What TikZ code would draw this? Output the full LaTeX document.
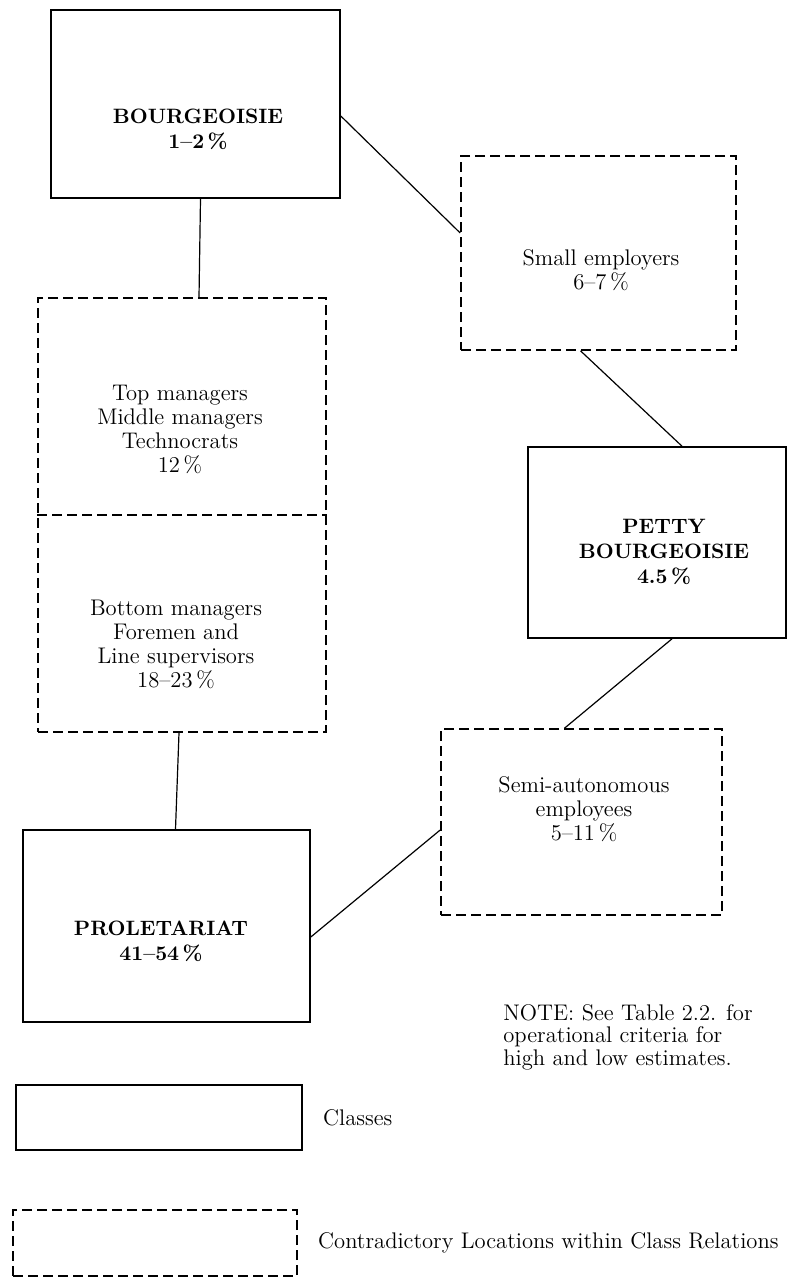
\documentclass[tikz,border=0pt]{standalone}
\usepackage{fontspec}
\usepackage{tikz}
\usetikzlibrary{positioning,calc,fit}

\tikzset{
  dashline/.style={line width=0.8pt, dash pattern=on 5pt off 2.5pt},
  classbox/.style={draw, line width=0.8pt, inner sep=0pt},
  contrabox/.style={draw, dashline, inner sep=0pt},
  boxtext/.style={align=center, inner sep=0pt, font=\fontsize{11.3}{12}\selectfont},
  classtext/.style={align=center, inner sep=0pt, font=\fontsize{10.4}{12.5}\selectfont\bfseries},
  link/.style={line width=0.6pt}
}

\begin{document}
\begin{tikzpicture}[x=0.5pt,y=-0.5pt]
        \useasboundingbox (0,0) rectangle (789,1280);

        \node[classbox, fit={(51,10) (340,198)}] (bourg) {};
        \node[classtext] (bourgtxt) at (198,129) {BOURGEOISIE\\1--2\,\%};

        \node[contrabox, fit={(461,156) (736,350)}] (small) {};
        \node[boxtext] (smalltxt) at (601,270) {Small employers\\6--7\,\%};

        \node[contrabox, fit={(38,298) (326,732)}] (mgr) {};
        \coordinate (split) at (0,515);
        \draw[dashline] (mgr.west |- split) -- (mgr.east |- split);
        \node[boxtext] (toptxt) at (180,429) {Top managers\\Middle managers\\Technocrats\\12\,\%};
        \node[boxtext] (bottomtxt) at (176,644) {Bottom managers\\Foremen and\\Line supervisors\\18--23\,\%};

        \node[classbox, fit={(528,447) (786,638)}] (petty) {};
        \node[classtext] (pettytxt) at (664,552) {PETTY\\BOURGEOISIE\\4.5\,\%};

        \node[contrabox, fit={(441,729) (722,915)}] (semi) {};
        \node[boxtext] (semitxt) at (584,809) {Semi-autonomous\\employees\\5--11\,\%};

        \node[classbox, fit={(23,830) (310,1022)}] (prol) {};
        \node[classtext] (proltxt) at (161,941) {PROLETARIAT\\41--54\,\%};

        \draw[link] ($(bourg.east)+(0,12)$) -- ($(small.west)+(0,-20)$);
        \draw[link] ($(bourg.south)+(5,0)$) -- ($(mgr.north)+(17,0)$);
        \draw[link] ($(small.south)+(-18,0)$) -- ($(petty.north)+(25,0)$);
        \draw[link] ($(petty.south)+(15,0)$) -- ($(semi.north)+(-17,0)$);
        \draw[link] ($(mgr.south)+(-3,0)$) -- ($(prol.north)+(9,0)$);
        \draw[link] ($(prol.east)+(0,11)$) -- ($(semi.west)+(0,8)$);

        \node[boxtext, align=left, anchor=west, font=\fontsize{11.3}{11.3}\selectfont] (note) at (503,1037)
            {NOTE: See Table 2.2. for\\operational criteria for\\high and low estimates.};

        \node[classbox, fit={(16,1085) (302,1150)}] (legclass) {};
        \node[boxtext, right=10pt of legclass] (legclasstxt) {Classes};
        \node[contrabox, fit={(13,1210) (297,1276)}] (legcontra) {};
        \node[boxtext, right=10pt of legcontra] (legcontratxt) {Contradictory Locations within Class Relations};
    \end{tikzpicture}
\end{document}
